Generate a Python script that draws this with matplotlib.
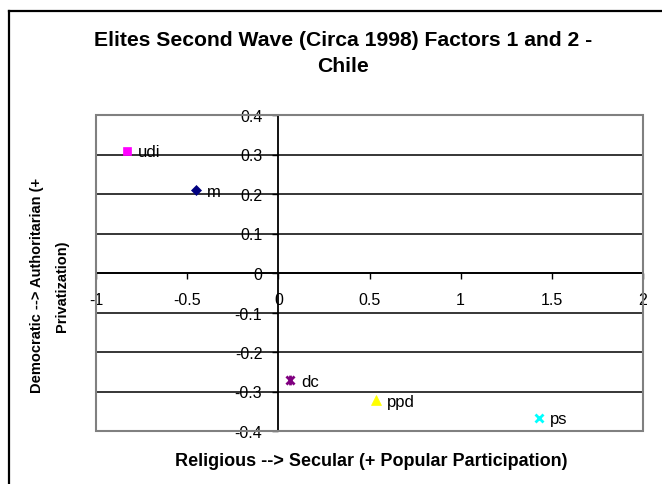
import matplotlib
matplotlib.use("Agg")
import matplotlib.pyplot as plt
from matplotlib.lines import Line2D
from matplotlib.patches import Rectangle
from matplotlib.path import Path

plt.rcParams['font.family'] = ['Liberation Sans', 'DejaVu Sans']

# Party positions on the two factors
parties = ["m", "udi", "dc", "ppd", "ps"]
factor1 = [-0.45, -0.83, 0.065, 0.535, 1.43]     # Religious --> Secular
factor2 = [0.21, 0.31, -0.272, -0.322, -0.366]    # Democratic --> Authoritarian

# star marker: an "x" crossed by a vertical bar
star = Path([(-1, -1), (1, 1), (-1, 1), (1, -1), (0, -1.2), (0, 1.2)],
            [Path.MOVETO, Path.LINETO, Path.MOVETO, Path.LINETO, Path.MOVETO, Path.LINETO])

markers = ["D", "s", star, "^", "x"]
colors = ["#000080", "#FF00FF", "#800080", "#FFFF00", "#00FFFF"]
sizes = [5.5, 6, 7, 7.5, 6]
line_markers = (1, 2, 4)

x_ticks = [-1, -0.5, 0, 0.5, 1, 1.5, 2]
x_tick_labels = ["-1", "-0.5", "0", "0.5", "1", "1.5", "2"]
y_ticks = [-0.4, -0.3, -0.2, -0.1, 0, 0.1, 0.2, 0.3, 0.4]
y_tick_labels = ["-0.4", "-0.3", "-0.2", "-0.1", "0", "0.1", "0.2", "0.3", "0.4"]

W, H = 662, 485
fig = plt.figure(figsize=(W / 100, H / 100), dpi=100)

# outer chart frame
fig.add_artist(Line2D([9 / W, 9 / W], [0, 1 - 12 / H], transform=fig.transFigure,
                      color="black", lw=1.6))
fig.add_artist(Line2D([9 / W, 1], [1 - 12 / H, 1 - 12 / H], transform=fig.transFigure,
                      color="black", lw=1.6))

left, right, top, bottom = 96, 643, 116, 432
ax = fig.add_axes([left / W, 1 - bottom / H, (right - left) / W, (bottom - top) / H])
ax.set_xlim(-1, 2)
ax.set_ylim(-0.4, 0.4)

# horizontal gridlines
for yv in y_ticks:
    ax.axhline(yv, color="black", lw=1.1, zorder=1)

# axes crossing at the origin
for side in ["top", "right"]:
    ax.spines[side].set_visible(False)
ax.spines["left"].set_position(("data", 0))
ax.spines["bottom"].set_position(("data", 0))
for side in ["left", "bottom"]:
    ax.spines[side].set_linewidth(1.3)
    ax.spines[side].set_zorder(2)

ax.add_patch(Rectangle((0, 0), 1, 1, transform=ax.transAxes, fill=False,
                       edgecolor="#808080", lw=1.5, zorder=3, clip_on=False))

ax.set_xticks(x_ticks)
ax.set_xticklabels(x_tick_labels)
ax.set_yticks(y_ticks)
ax.set_yticklabels(y_tick_labels)
ax.tick_params(axis="x", direction="out", length=4.5, width=1, pad=9, labelsize=11.5)
ax.tick_params(axis="y", direction="out", length=4.5, width=1, pad=7, labelsize=11.5)

for i, (name, xv, yv, mk, c, s) in enumerate(zip(parties, factor1, factor2, markers, colors, sizes)):
    ax.plot([xv], [yv], linestyle="none", marker=mk, color=c, markersize=s,
            markeredgewidth=2 if i in (2, 4) else 0.5,
            markeredgecolor=c, zorder=5, clip_on=False)
    ax.annotate(name, (xv, yv), xytext=(8.0, -1.0), textcoords="offset points",
                ha="left", va="center", fontsize=12, zorder=6)

fig.text(343 / W, 1 - 40 / H, "Elites Second Wave (Circa 1998) Factors 1 and 2 -",
         ha="center", va="center", fontsize=15.2, fontweight="bold")
fig.text(343 / W, 1 - 66 / H, "Chile", ha="center", va="center",
         fontsize=15.2, fontweight="bold")

fig.text(371 / W, 1 - 462 / H, "Religious --> Secular (+ Popular Participation)",
         ha="center", va="center", fontsize=13, fontweight="bold")
fig.text(37 / W, 1 - 285 / H, "Democratic --> Authoritarian (+",
         ha="center", va="center", rotation=90, fontsize=10.5, fontweight="bold")
fig.text(62 / W, 1 - 286 / H, "Privatization)",
         ha="center", va="center", rotation=90, fontsize=10.5, fontweight="bold")

fig.savefig("out.png", dpi=100)
